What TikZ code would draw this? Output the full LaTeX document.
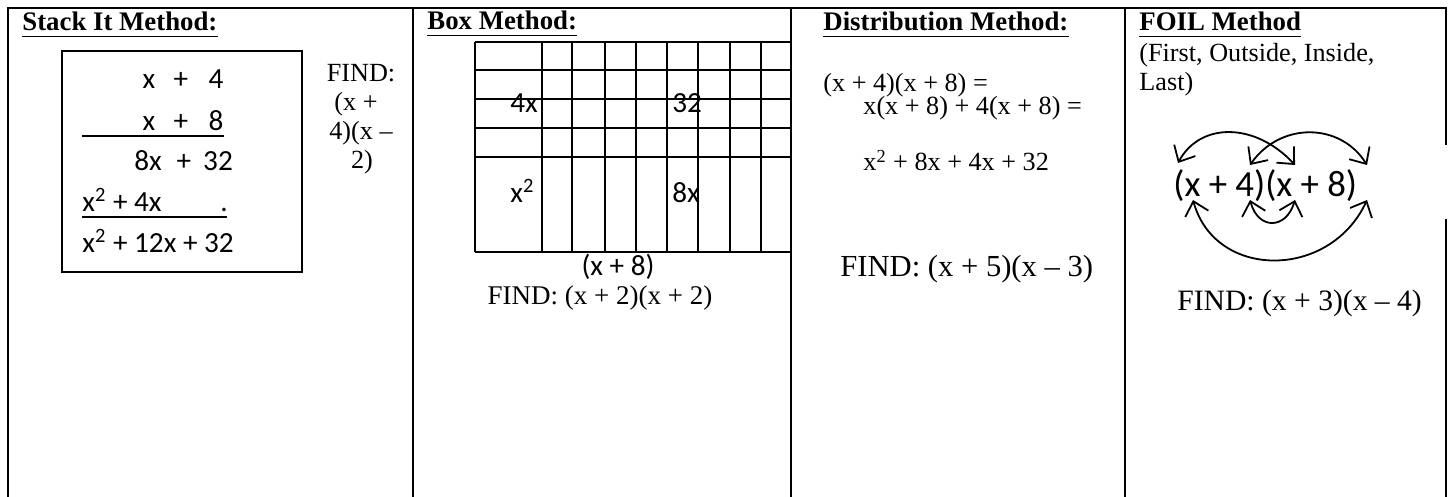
\documentclass[tikz,border=0pt]{standalone}
\usepackage{fontspec}
\setmainfont{Liberation Serif}
\newfontfamily\calfont{Carlito}
\usetikzlibrary{arrows.meta}
\tikzset{
  tm/.style={font=\fontsize{13.1}{14.5}\selectfont, inner sep=0pt, anchor=base west},
  tmc/.style={tm, anchor=base},
  hd/.style={font=\fontsize{13.4}{15}\selectfont\bfseries, inner sep=0pt, anchor=base west},
  cb/.style={font=\calfont\fontsize{14.6}{16}\selectfont, inner sep=0pt, anchor=base west},
  cbc/.style={cb, anchor=base},
  cbig/.style={font=\calfont\fontsize{18.4}{20}\selectfont, inner sep=0pt, anchor=base west},
  border/.style={line width=1.1pt},
  gridline/.style={line width=1pt},
  uline/.style={line width=0.9pt},
  foilarc/.style={line width=0.9pt, {Straight Barb[length=6.5pt,width=12pt]}-{Straight Barb[length=6.5pt,width=12pt]}}
}
\begin{document}
\begin{tikzpicture}[x=0.5pt,y=-0.5pt]
\useasboundingbox (0,0) rectangle (1450,497);
% table borders
\draw[border] (8,497) -- (8,8) -- (1446,8) -- (1446,145);
\draw[border] (1446,219) -- (1446,497);
\draw[border] (413,8) -- (413,497);
\draw[border] (791,8) -- (791,497);
\draw[border] (1125,8) -- (1125,497);

% headings
\node[hd] (h1) at (22,31) {Stack It Method:};
\node[hd] (h2) at (427,30) {Box Method:};
\node[hd] (h3) at (823,31) {Distribution Method:};
\node[hd] (h4) at (1139,31) {FOIL Method};
\foreach \h in {h1,h2,h3,h4}{
  \draw[uline] ([yshift=-2.8pt]\h.base west) -- ([yshift=-2.8pt]\h.base east);
}

% ---- Stack It ----
\draw[line width=0.8pt] (62,51) rectangle (302,272);
\node[cbc] (s1a) at (149,89) {x};
\node[cbc] (s1b) at (181,89) {+};
\node[cbc] (s1c) at (216,89) {4};
\node[cbc] (s2a) at (149,131) {x};
\node[cbc] (s2b) at (181,131) {+};
\node[cbc] (s2c) at (216,131) {8};
\draw[uline] (82,136) -- (224,136);
\node[cbc] (s3a) at (148,171) {8x};
\node[cbc] (s3b) at (184,171) {+};
\node[cbc] (s3c) at (218,171) {32};
\node[cb] (s4a) at (82,212) {x\textsuperscript{2} + 4x};
\node[cbc] (s4b) at (224,212) {.};
\draw[uline] (82,217) -- (227,217);
\node[cb] (s5) at (82,253) {x\textsuperscript{2} + 12x + 32};
\node[tmc] (sf1) at (361,82) {FIND:};
\node[tmc] (sf2) at (356,111) {(x +};
\node[tmc] (sf3) at (361,140) {4)(x –};
\node[tmc] (sf4) at (362,169) {2)};

% ---- Box method ----
\foreach \yy in {41.7,70,99,127.7,156.7,251.7}{
  \draw[gridline] (475,\yy) -- (791,\yy);
}
\foreach \xx in {475,541.7,572.3,605,636,667.3,698.3,730,761}{
  \draw[gridline] (\xx,41.7) -- (\xx,251.7);
}
\node[cb] (b1) at (510,113) {4x};
\node[cb] (b2) at (672,113) {32};
\node[cb] (b3) at (510,203) {x\textsuperscript{2}};
\node[cb] (b4) at (672,203) {8x};
\node[cbc] (b5) at (618,276) {(x + 8)};
\node[tmc, font=\fontsize{13.5}{15}\selectfont] (b6) at (600,304) {FIND: (x + 2)(x + 2)};

% ---- Distribution ----
\node[tm] (d1) at (823,92) {(x + 4)(x + 8) =};
\node[tm] (d2) at (863,115) {x(x + 8) + 4(x + 8) =};
\node[tm] (d3) at (863,171) {x\textsuperscript{2} + 8x + 4x + 32};
\node[tm, font=\fontsize{15.3}{17}\selectfont] (d4) at (840,277) {FIND: (x + 5)(x – 3)};

% ---- FOIL ----
\node[tm] (f1) at (1139,62) {(First, Outside, Inside,};
\node[tm] (f2) at (1139,91) {Last)};
\node[cbig] (f3) at (1173,197) {(x + 4)(x + 8)};
\node[tm, font=\fontsize{14.8}{16}\selectfont] (f4) at (1177,310) {FIND: (x + 3)(x – 4)};
\coordinate (p1) at (1178,163);
\coordinate (p2) at (1295,165);
\coordinate (p3) at (1250,165);
\coordinate (p4) at (1367,165);
\coordinate (q1) at (1193,200);
\coordinate (q2) at (1367,200);
\coordinate (q3) at (1250,200);
\coordinate (q4) at (1295,200);
\draw[foilarc] (p1) .. controls (1200,122) and (1255,122) .. (p2);
\draw[foilarc] (p3) .. controls (1280,122) and (1340,122) .. (p4);
\draw[foilarc] (q1) .. controls (1215,280) and (1330,280) .. (q2);
\draw[foilarc] (q3) .. controls (1258,230) and (1286,230) .. (q4);
\end{tikzpicture}
\end{document}
